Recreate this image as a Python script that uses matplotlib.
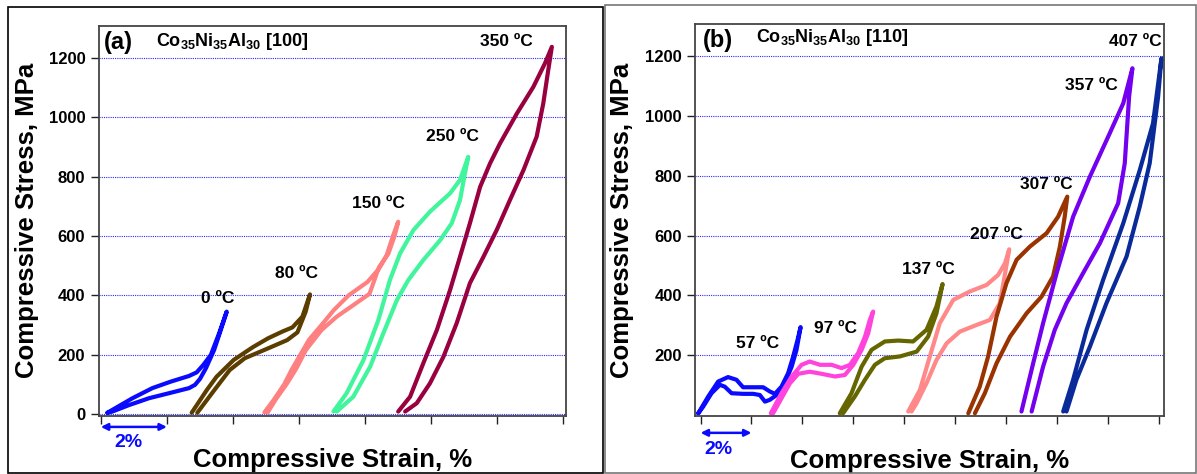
import matplotlib
matplotlib.use('Agg')
import matplotlib.pyplot as plt
import matplotlib.transforms as mtransforms
from matplotlib.patches import Rectangle

# ---- panel (a): Co35Ni35Al30 [100], strain %, stress MPa ----
a_temps = ['0 ºC', '80 ºC', '150 ºC', '250 ºC', '350 ºC']
a_colors = ['#0a0aff', '#5c3d00', '#ff8080', '#40f59c', '#990040']

a0_x = [0.2, 0.96, 1.56, 2.12, 2.67, 2.9, 3.1, 3.33, 3.58, 3.81,
        3.63, 3.43, 3.18, 3.0, 2.85, 2.67, 2.07, 1.46, 0.86, 0.35, 0.2]
a0_y = [4, 53, 87, 109, 128, 140, 165, 199, 272, 345,
        283, 216, 154, 118, 98, 87, 70, 53, 30, 8, 4]

a80_x = [2.75, 3.21, 3.5, 4.02, 4.6, 5.06, 5.5, 5.8, 6.1, 6.33,
         6.2, 5.95, 5.64, 5.06, 4.36, 3.9, 3.44, 2.92]
a80_y = [4, 81, 125, 182, 225, 255, 278, 292, 328, 403,
         345, 275, 249, 221, 188, 148, 81, 4]

a150_x = [4.95, 5.25, 5.55, 5.78, 6.04, 6.3, 6.68, 7.05, 7.5, 8.07, 8.42, 8.65, 8.84, 9.0,
          8.89, 8.7, 8.42, 8.13, 7.72, 7.14, 6.68, 6.21, 5.9, 5.62, 5.3, 5.05]
a150_y = [5, 50, 100, 150, 200, 250, 300, 350, 400, 445, 490, 535, 600, 648,
          600, 540, 495, 405, 373, 328, 283, 216, 150, 100, 50, 5]

a250_x = [7.04, 7.44, 7.95, 8.4, 8.75, 9.06, 9.46, 9.96, 10.57, 10.87, 11.12,
          11.02, 10.87, 10.62, 10.27, 9.76, 9.31, 8.96, 8.55, 8.15, 7.64, 7.14]
a250_y = [8, 70, 182, 317, 452, 542, 620, 682, 744, 789, 867,
          811, 721, 643, 586, 519, 452, 384, 272, 159, 58, 8]

a350_x = [9.0, 9.36, 9.76, 10.17, 10.57, 10.87, 11.17, 11.48, 11.78, 12.08, 12.59, 13.09, 13.44, 13.65,
          13.54, 13.39, 13.19, 12.79, 12.38, 11.98, 11.58, 11.17, 10.77, 10.37, 9.96, 9.56, 9.21]
a350_y = [8, 58, 171, 283, 418, 530, 643, 766, 845, 912, 1013, 1103, 1182, 1238,
          1159, 1047, 935, 822, 721, 620, 530, 441, 306, 193, 103, 36, 8]

# label positions (strain, stress)
a_label_x = [3.55, 5.93, 8.39, 10.64, 12.26]
a_label_y = [388, 474, 708, 937, 1255]

# ---- panel (b): Co35Ni35Al30 [110] ----
b_temps = ['57 ºC', '97 ºC', '137 ºC', '207 ºC', '307 ºC', '357 ºC', '407 ºC']
b_colors = ['#0a0aff', '#ff44dd', '#666600', '#ff8888', '#993300', '#7300ee', '#0a2a9a']

b57_x = [-0.09, 0.3, 0.69, 1.08, 1.41, 1.67, 2.07, 2.46, 2.72, 2.92, 3.18, 3.44, 3.64, 3.81, 3.93,
         3.77, 3.58, 3.31, 2.99, 2.72, 2.53, 2.33, 2.07, 1.67, 1.22, 0.95, 0.76, 0.43, 0.1, -0.09]
b57_y = [6, 62, 112, 127, 118, 93, 93, 93, 79, 71, 95, 140, 196, 251, 294,
         218, 162, 106, 67, 51, 45, 67, 71, 71, 73, 95, 101, 73, 28, 6]

b97_x = [2.76, 3.18, 3.58, 3.97, 4.29, 4.69, 5.15, 5.54, 5.87, 6.19, 6.46, 6.65, 6.78,
         6.59, 6.33, 6.0, 5.67, 5.28, 4.75, 4.29, 3.84, 3.51, 3.18, 2.85]
b97_y = [6, 73, 129, 168, 179, 168, 168, 157, 168, 207, 262, 318, 346,
         274, 218, 168, 134, 129, 138, 145, 138, 106, 56, 6]

b137_x = [5.47, 5.93, 6.33, 6.72, 7.24, 7.76, 8.35, 8.88, 9.27, 9.51,
          9.27, 8.94, 8.49, 7.83, 7.24, 6.85, 6.46, 6.06, 5.6]
b137_y = [6, 73, 162, 218, 246, 249, 246, 285, 363, 438,
          340, 262, 212, 196, 190, 168, 118, 62, 6]

b207_x = [8.16, 8.62, 9.01, 9.4, 9.93, 10.58, 11.24, 11.69, 11.96, 12.13,
          11.99, 11.76, 11.37, 10.84, 10.19, 9.67, 9.27, 8.88, 8.49, 8.29]
b207_y = [12, 84, 196, 307, 385, 413, 435, 468, 507, 554,
          485, 374, 318, 301, 279, 240, 184, 107, 40, 12]

b307_x = [10.52, 10.97, 11.3, 11.63, 12.02, 12.42, 12.94, 13.6, 14.05, 14.41,
          14.31, 14.12, 13.85, 13.4, 12.81, 12.16, 11.63, 11.17, 10.78]
b307_y = [6, 95, 196, 329, 441, 519, 563, 608, 663, 730,
          663, 563, 463, 396, 340, 262, 173, 73, 6]

b357_x = [12.61, 13.07, 13.46, 13.99, 14.64, 15.3, 16.08, 16.61, 16.97,
          16.84, 16.67, 16.41, 15.69, 15.03, 14.38, 13.92, 13.46, 13.01]
b357_y = [12, 173, 307, 474, 663, 797, 942, 1042, 1159,
          1064, 842, 708, 574, 474, 374, 285, 162, 12]

b407_x = [14.25, 14.64, 15.17, 15.82, 16.61, 17.26, 17.78, 18.11,
          17.98, 17.65, 17.26, 16.74, 15.95, 15.3, 14.77, 14.38]
b407_y = [12, 118, 285, 452, 641, 819, 975, 1192,
          1064, 842, 697, 530, 374, 229, 118, 12]

b_label_x = [2.25, 5.32, 8.94, 11.63, 13.58, 15.34, 17.1]
b_label_y = [240, 290, 485, 604, 771, 1103, 1248]

a_loops = [(a0_x, a0_y), (a80_x, a80_y), (a150_x, a150_y), (a250_x, a250_y), (a350_x, a350_y)]
b_loops = [(b57_x, b57_y), (b97_x, b97_y), (b137_x, b137_y), (b207_x, b207_y),
           (b307_x, b307_y), (b357_x, b357_y), (b407_x, b407_y)]

plt.rcParams['font.family'] = ['Liberation Sans', 'DejaVu Sans']
plt.rcParams['font.weight'] = 'bold'
plt.rcParams['mathtext.fontset'] = 'custom'
plt.rcParams['mathtext.rm'] = 'Liberation Sans:bold'
plt.rcParams['mathtext.bf'] = 'Liberation Sans:bold'
plt.rcParams['mathtext.default'] = 'bf'


def style_axes(ax, xmax, yticks, xlim, ylim):
    ax.set_xlim(*xlim)
    ax.set_ylim(*ylim)
    ax.set_xticks(range(0, xmax + 1, 2))
    ax.set_xticklabels([])
    ax.set_yticks(yticks)
    ax.set_yticklabels([str(t) for t in yticks], fontsize=12, fontweight='bold')
    ax.tick_params(axis='both', direction='out', length=6, width=1.0, color='#222222')
    for sp in ax.spines.values():
        sp.set_color('#444444')
        sp.set_linewidth(1.3)
    ax.grid(axis='y', color='#2a2aff', linestyle=(0, (1, 1)), linewidth=0.8)
    ax.set_axisbelow(True)
    ax.set_xlabel('Compressive Strain, %', fontsize=18.5, fontweight='bold')
    ax.set_ylabel('Compressive Stress, MPa', fontsize=18.5, fontweight='bold')


def scale_bar(ax, y_arrow, y_text, x_text):
    tr = mtransforms.blended_transform_factory(ax.transData, ax.transAxes)
    ax.annotate('', xy=(2, y_arrow), xytext=(0, y_arrow), xycoords=tr, textcoords=tr,
                arrowprops=dict(arrowstyle='<|-|>', color='#0a0aff', lw=1.8,
                                mutation_scale=10, shrinkA=0, shrinkB=0),
                annotation_clip=False)
    ax.text(x_text, y_text, '2%', transform=tr, color='#0a0aff', fontsize=14,
            fontweight='bold', ha='center', va='center', clip_on=False)


fig = plt.figure(figsize=(11.97, 4.74), dpi=100)

ax_a = fig.add_axes([0.0823, 0.1224, 0.3906, 0.8238])
for (x, y), c in zip(a_loops, a_colors):
    ax_a.plot(x, y, color=c, lw=3.0, solid_joinstyle='round', solid_capstyle='round')
for t, lx, ly in zip(a_temps, a_label_x, a_label_y):
    ax_a.text(lx, ly, t, fontsize=12.5, fontweight='bold', ha='center', va='center')
style_axes(ax_a, 14, [0, 200, 400, 600, 800, 1000, 1200], (-0.07, 14.08), (-7, 1310))
ax_a.text(0.1, 1251, '(a)', fontsize=17, fontweight='bold', ha='left', va='center')
ax_a.text(1.67, 1255, r'Co$_{35}$Ni$_{35}$Al$_{30}$ [100]', fontsize=13,
          fontweight='bold', ha='left', va='center')
ax_a.xaxis.set_label_coords(0.5, -0.083)
ax_a.yaxis.set_label_coords(-0.128, 0.5)
scale_bar(ax_a, -0.028, -0.069, 0.83)

ax_b = fig.add_axes([0.5806, 0.1224, 0.3918, 0.8270])
for (x, y), c in zip(b_loops, b_colors):
    ax_b.plot(x, y, color=c, lw=3.0, solid_joinstyle='round', solid_capstyle='round')
for t, lx, ly in zip(b_temps, b_label_x, b_label_y):
    ax_b.text(lx, ly, t, fontsize=12.5, fontweight='bold', ha='center', va='center')
style_axes(ax_b, 18, [200, 400, 600, 800, 1000, 1200], (-0.22, 18.21), (-3, 1307))
ax_b.text(0.08, 1251, '(b)', fontsize=17, fontweight='bold', ha='left', va='center')
ax_b.text(2.17, 1262, r'Co$_{35}$Ni$_{35}$Al$_{30}$ [110]', fontsize=13,
          fontweight='bold', ha='left', va='center')
ax_b.xaxis.set_label_coords(0.5, -0.083)
ax_b.yaxis.set_label_coords(-0.130, 0.5)
scale_bar(ax_b, -0.043, -0.085, 0.69)

# panel frames (pixel coords -> figure fraction)
W, H = 1197.0, 474.0
fig.add_artist(Rectangle((8 / W, 1 - 473 / H), (603 - 8) / W, (473 - 7) / H,
                         transform=fig.transFigure, fill=False, ec='black', lw=1.2))
fig.add_artist(Rectangle((605 / W, 1 - 473 / H), (1196 - 605) / W, (473 - 5) / H,
                         transform=fig.transFigure, fill=False, ec='#777777', lw=1.2))

fig.savefig('out.png', dpi=100)
